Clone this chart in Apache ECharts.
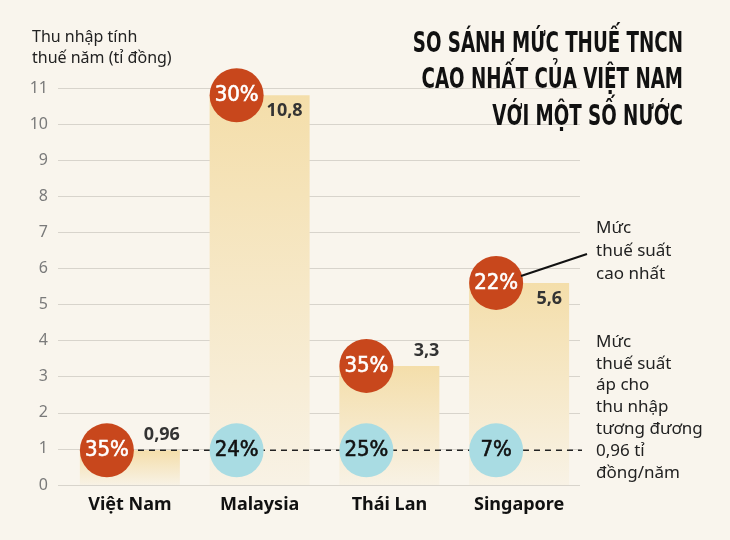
<!DOCTYPE html>
<html>
<head>
<meta charset="utf-8">
<script src="https://cdn.jsdelivr.net/npm/echarts@6/dist/echarts.min.js"></script>
<style>
html,body{margin:0;padding:0;background:#F9F5ED;}
#c{width:730px;height:540px;}
</style>
</head>
<body>
<div id="c"></div>
<script>
const categories = ['Việt Nam', 'Malaysia', 'Thái Lan', 'Singapore'];
const incomeValues = [0.96, 10.8, 3.3, 5.6];
const topRates = [35, 30, 35, 22];
const equivRates = [null, 24, 25, 7];
const refIncome = 0.96;
const yMin = 0, yMax = 11, yStep = 1;

const fmt = v => String(v).replace('.', ',');
const SANS = 'Noto Sans';
const COND = 'DejaVu Sans Condensed';

const chart = echarts.init(document.getElementById('c'), null, {renderer: 'canvas'});

const barData = incomeValues.map((v, i) => {
  const inside = v > 5;
  return {
    value: v,
    label: inside
      ? {position: ['100%', 7], align: 'right', verticalAlign: 'top', offset: [-7, 0]}
      : {position: ['100%', -6], align: 'right', verticalAlign: 'bottom', offset: [0, 0]}
  };
});

const option = {
  backgroundColor: '#F9F5ED',
  animation: false,
  grid: [
    {left: 58, right: 150, top: 88, bottom: 55},
    {left: 65, right: 146, top: 88, bottom: 55}
  ],
  xAxis: [
    {gridIndex: 0, type: 'value', min: 0, max: 1, show: false},
    {gridIndex: 1, type: 'category', data: categories,
     axisLine: {show: false}, axisTick: {show: false},
     axisLabel: {margin: 11, fontFamily: SANS, fontWeight: 'bold', fontSize: 18, color: '#111'}}
  ],
  yAxis: [
    {gridIndex: 0, type: 'value', min: yMin, max: yMax, interval: yStep,
     axisLine: {show: false}, axisTick: {show: false},
     axisLabel: {margin: 10, fontFamily: SANS, fontSize: 16, color: '#7a7a7a'},
     splitLine: {lineStyle: {color: '#d8d4cc', width: 1}}},
    {gridIndex: 1, type: 'value', min: yMin, max: yMax, interval: yStep, show: false,
     splitLine: {show: false}}
  ],
  series: [
    {
      type: 'bar', xAxisIndex: 1, yAxisIndex: 1, barWidth: 100, z: 2,
      data: barData,
      itemStyle: {
        color: new echarts.graphic.LinearGradient(0, 0, 0, 1, [
          {offset: 0, color: '#F4DEAA'},
          {offset: 1, color: '#F8F2E5'}
        ])
      },
      label: {show: true, formatter: p => fmt(p.value),
        fontFamily: SANS, fontWeight: 'bold', fontSize: 18, color: '#333'}
    },
    {
      type: 'line', xAxisIndex: 0, yAxisIndex: 0, z: 3, clip: false,
      symbol: 'none', silent: true,
      data: [[0.09, refIncome], [1.01, refIncome]],
      lineStyle: {color: '#222', width: 1.5, type: [6, 5]}
    },
    {
      type: 'scatter', xAxisIndex: 1, yAxisIndex: 1, z: 5,
      symbol: 'circle', symbolSize: 54, symbolOffset: [-23, 0],
      data: incomeValues.map((v, i) => ({value: v, rate: topRates[i]})),
      itemStyle: {color: '#C8471C', opacity: 1},
      label: {show: true, position: 'inside', formatter: p => p.data.rate + '%',
        fontFamily: COND, fontSize: 22, color: '#fff', textBorderColor: '#fff', textBorderWidth: 0.6}
    },
    {
      type: 'scatter', xAxisIndex: 1, yAxisIndex: 1, z: 5,
      symbol: 'circle', symbolSize: 54, symbolOffset: [-23, 0],
      data: equivRates.map((r, i) => r == null ? {value: null} : ({value: refIncome, rate: r})),
      itemStyle: {color: '#A9DCE3', opacity: 1},
      label: {show: true, position: 'inside', formatter: p => p.data.rate + '%',
        fontFamily: COND, fontSize: 22, color: '#111', textBorderColor: '#111', textBorderWidth: 0.6}
    }
  ],
  graphic: [
    {type: 'text', left: 32, top: 27, z: 10, silent: true,
     style: {text: 'Thu nhập tính\nthuế năm (tỉ đồng)', font: '16px "Noto Sans"', fill: '#222', lineHeight: 21}},
    {type: 'text', x: 683, y: 26, scaleX: 0.70, z: 10, silent: true,
     style: {text: 'SO SÁNH MỨC THUẾ TNCN\nCAO NHẤT CỦA VIỆT NAM\nVỚI MỘT SỐ NƯỚC',
       font: 'bold 29px "DejaVu Sans Condensed"', fill: '#111', textAlign: 'right', textVerticalAlign: 'top', lineHeight: 36.5}},
    {type: 'text', x: 596, y: 217, z: 10, silent: true,
     style: {text: 'Mức\nthuế suất\ncao nhất', font: '17px "Noto Sans"', fill: '#222', lineHeight: 23, textVerticalAlign: 'top'}},
    {type: 'text', x: 596, y: 331, z: 10, silent: true,
     style: {text: 'Mức\nthuế suất\náp cho\nthu nhập\ntương đương\n0,96 tỉ\nđồng/năm', font: '17px "Noto Sans"', fill: '#222', lineHeight: 21.8, textVerticalAlign: 'top'}},
    {type: 'line', z: 10, silent: true,
     shape: {x1: 521, y1: 276, x2: 587, y2: 254},
     style: {stroke: '#111', lineWidth: 2}}
  ]
};
chart.setOption(option);
</script>
</body>
</html>
